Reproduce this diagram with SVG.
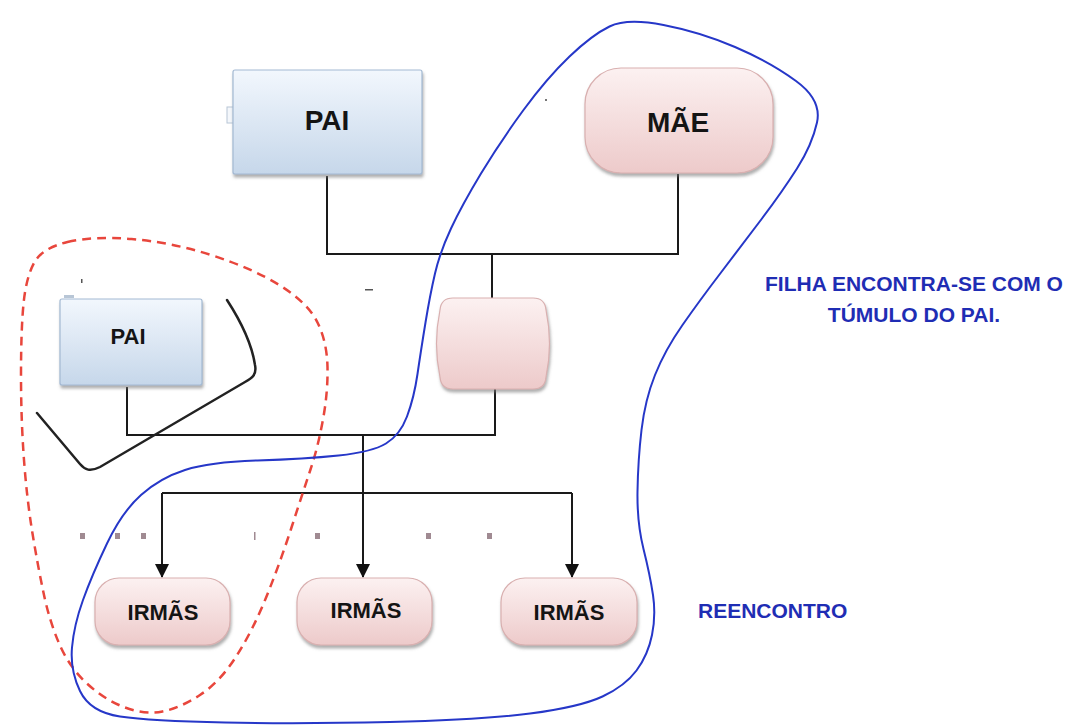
<svg xmlns="http://www.w3.org/2000/svg" width="1084" height="726" viewBox="0 0 1084 726">
<defs>
<linearGradient id="gBlue" x1="0" y1="0" x2="0" y2="1">
<stop offset="0" stop-color="#f2f7fd"/>
<stop offset="1" stop-color="#c6d7ea"/>
</linearGradient>
<linearGradient id="gPink" x1="0" y1="0" x2="0" y2="1">
<stop offset="0" stop-color="#fcf1f1"/>
<stop offset="1" stop-color="#edcaca"/>
</linearGradient>
<filter id="sh" x="-10%" y="-10%" width="125%" height="130%">
<feDropShadow dx="1" dy="3" stdDeviation="1.5" flood-color="#7a7a7a" flood-opacity="0.6"/>
</filter>
<marker id="arr" markerUnits="userSpaceOnUse" markerWidth="14" markerHeight="16" refX="13" refY="7" orient="auto">
<path d="M0,0 L14,7 L0,14 Z" fill="#111"/>
</marker>
</defs>
<style>
.blue{fill:url(#gBlue);stroke:#a3b9d3;stroke-width:1.2;filter:url(#sh)}
.pink{fill:url(#gPink);stroke:#d9b0b0;stroke-width:1.2;filter:url(#sh)}
.lbl{font-family:"Liberation Sans",Arial,sans-serif;font-weight:bold;fill:#141414;text-anchor:middle}
.note{font-family:"Liberation Sans",Arial,sans-serif;font-weight:bold;fill:#1f2db4;font-size:21px}
.conn{fill:none;stroke:#1a1a1a;stroke-width:2}
.mark{fill:#a08a92}
</style>

<g id="connectors">
<path class="conn" d="M327,176 V254 H678 V174"/>
<path class="conn" d="M492,254 V298"/>
<path class="conn" d="M495,389 V435 H127 V387"/>
<path class="conn" d="M363,435 V577" marker-end="url(#arr)"/>
<path class="conn" d="M162,493 H572" stroke="#3a3a3a" stroke-width="3"/>
<path class="conn" d="M162,493 V577" marker-end="url(#arr)"/>
<path class="conn" d="M572,493 V577" marker-end="url(#arr)"/>
</g>

<g id="pai-top">
<rect x="227" y="107" width="7" height="16" fill="#f4f7fb" stroke="#b8c6d6" stroke-width="1"/>
<rect class="blue" x="233" y="70" width="189" height="104" rx="2"/>
<text class="lbl" x="327" y="130" font-size="28">PAI</text>
</g>

<g id="mae">
<rect class="pink" x="585" y="68" width="188" height="105" rx="36"/>
<text class="lbl" x="678" y="132" font-size="28">MÃE</text>
</g>

<g id="filha">
<path class="pink" d="M453,298 H533 Q545,298 546,310 Q553,344 546,377 Q545,389 533,389 H453 Q441,389 440,377 Q433,344 440,310 Q441,298 453,298 Z"/>
</g>

<g id="pai-small">
<rect x="64" y="295" width="10" height="3" fill="#b8c6d6"/>
<rect class="blue" x="60" y="299" width="142" height="86" rx="2"/>
<text class="lbl" x="128" y="344" font-size="22">PAI</text>
</g>

<g id="irmas-1">
<rect class="pink" x="95" y="578" width="135" height="67" rx="24"/>
<text class="lbl" x="163" y="620" font-size="22">IRMÃS</text>
</g>
<g id="irmas-2">
<rect class="pink" x="297" y="578" width="135" height="67" rx="24"/>
<text class="lbl" x="366" y="618" font-size="22">IRMÃS</text>
</g>
<g id="irmas-3">
<rect class="pink" x="501" y="578" width="136" height="67" rx="24"/>
<text class="lbl" x="569" y="620" font-size="22">IRMÃS</text>
</g>

<g id="black-bracket">
<path d="M227,300 C240,320 252,345 255,365 C257,375 252,378 245,382 L100,467 C90,472 85,470 80,464 L37,413" fill="none" stroke="#222" stroke-width="2.5" stroke-linecap="round"/>
</g>

<g id="red-outline">
<path d="M67.5,242 Q93,236 131.5,239 Q170,242 211,255 Q252,268 280,285.5 Q308,303 317.5,322.5 Q327,342 327.5,367 Q328,392 323,419.5 Q318,447 310.5,469.5 Q303,492 291.5,527.5 Q280,563 266.5,596.5 Q253,630 236.5,656 Q220,682 200,695 Q180,708 162.5,711.5 Q145,715 125,707.5 Q105,700 87.5,684 Q70,668 60,645.5 Q50,623 44,595 Q38,567 32.5,533.5 Q27,500 24,460 Q21,420 21,375 Q21,330 23.5,304 Q26,278 34,263 Q42,248 67.5,242 Z" fill="none" stroke="#e8463c" stroke-width="2.5" stroke-dasharray="9,6"/>
</g>

<g id="blue-outline">
<path d="M609.5,26.5 Q627,18 663.5,25 Q700,32 735,47 Q770,62 796,81 Q822,100 817,122.5 Q812,145 797,168.5 Q782,192 762,218.5 Q742,245 721,272.5 Q700,300 682.5,325 Q665,350 655,375 Q645,400 641.5,430 Q638,460 637.5,491.5 Q637,523 643.5,549 Q650,575 653,595 Q656,615 652,635 Q648,655 636.5,670.5 Q625,686 602.5,696.5 Q580,707 530,713.5 Q480,720 390,722 Q300,724 225,722.5 Q150,721 120,716.5 Q90,712 80,691 Q70,670 72,647.5 Q74,625 83,600 Q92,575 107,543.5 Q122,512 141,495 Q160,478 185,470 Q210,462 257.5,460.5 Q305,459 338.5,455.5 Q372,452 386,443.5 Q400,435 407,416.5 Q414,398 417.5,374 Q421,350 425.5,322.5 Q430,295 435,273.5 Q440,252 451,228.5 Q462,205 481,173.5 Q500,142 523.5,110 Q547,78 569.5,56.5 Q592,35 609.5,26.5 Z" fill="none" stroke="#2637c8" stroke-width="2"/>
</g>

<g id="marks">
<rect class="mark" x="80" y="533" width="5" height="6"/>
<rect class="mark" x="115" y="533" width="5" height="6"/>
<rect class="mark" x="141" y="533" width="5" height="6"/>
<rect class="mark" x="254" y="532" width="1.5" height="8"/>
<rect class="mark" x="315" y="533" width="5" height="6"/>
<rect class="mark" x="426" y="533" width="5" height="6"/>
<rect class="mark" x="487" y="533" width="5" height="6"/>
<rect x="81" y="279" width="1.5" height="4" fill="#555"/>
<rect x="365" y="289" width="8" height="1.5" fill="#555"/>
<rect x="545" y="99" width="2" height="2" fill="#777"/>
</g>

<g id="notes">
<text class="note" x="914" y="291" text-anchor="middle">FILHA ENCONTRA-SE COM O</text>
<text class="note" x="914" y="322" text-anchor="middle">TÚMULO DO PAI.</text>
<text class="note" x="698" y="618">REENCONTRO</text>
</g>
</svg>
